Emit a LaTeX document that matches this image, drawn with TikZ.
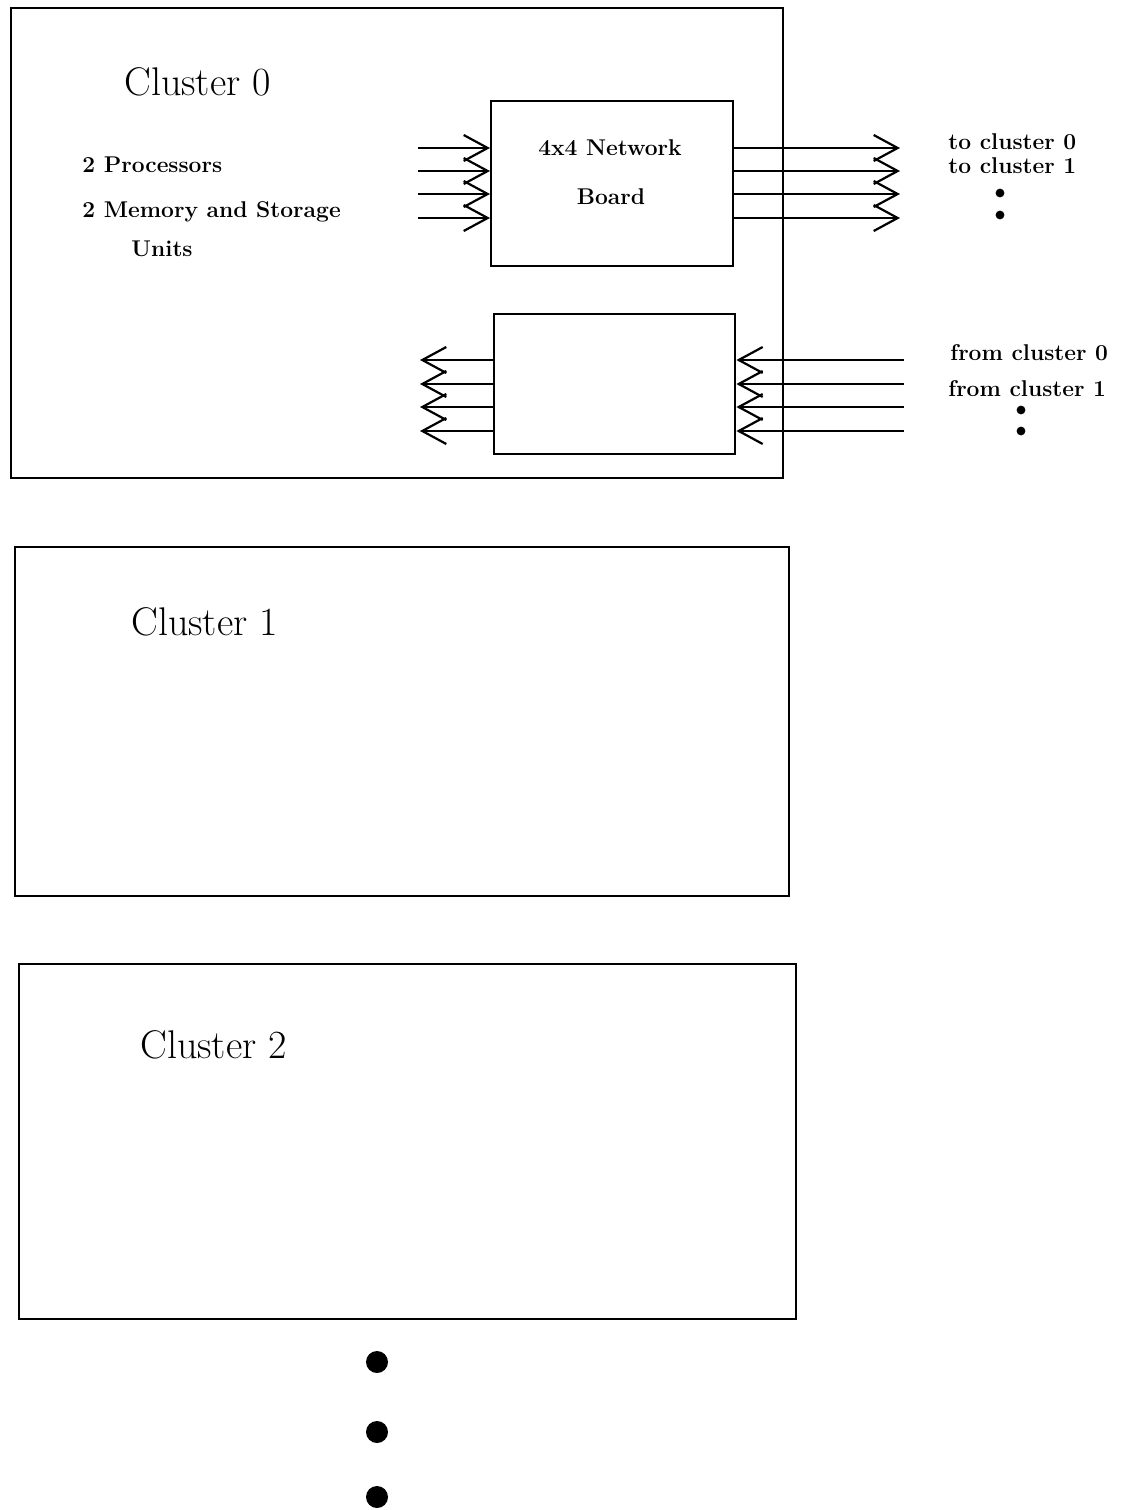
\documentclass[tikz,border=0pt]{standalone}
\usepackage{tikz}
\usetikzlibrary{positioning, calc, arrows.meta}

\tikzset{
    clusterbox/.style={draw, line width=1.2pt, anchor=north west, inner sep=0pt},
    boardbox/.style={draw, line width=1.2pt, anchor=north west, inner sep=0pt},
    bigarrow/.style={line width=1.1pt, -{Straight Barb[length=12pt, width=13pt, line width=1.1pt]}},
    boldlabel/.style={font=\fontsize{11.4}{13}\selectfont\bfseries, anchor=west, inner sep=0pt},
    clusterlabel/.style={font=\fontsize{20}{24}\selectfont, anchor=west, inner sep=0pt}
}

\begin{document}
\begin{tikzpicture}[x=0.5pt, y=-0.5pt]
        \useasboundingbox (0,0) rectangle (1126,1510);

        % ==========================================
        % CLUSTER 0: frame, labels and boards
        % ==========================================
        \node[clusterbox, minimum width=386pt, minimum height=235pt] (cluster0) at (10,7) {};
        \node[clusterlabel] (name0) at (124,82) {Cluster 0};
        \node[boldlabel] (procs) at (82,165) {2 Processors};
        \node[boldlabel] (mems) at (82,212) {2 Memory and Storage};
        \node[boldlabel] (units) at (131,249) {Units};

        % Network board (outgoing)
        \node[boardbox, minimum width=121pt, minimum height=82.5pt] (board) at (490,100) {};
        \node[boldlabel, anchor=center] (boardtop) at (610,148) {4x4 Network};
        \node[boldlabel, anchor=center] (boardbot) at (611,197) {Board};

        % Receiving board
        \node[boardbox, minimum width=120.5pt, minimum height=70pt] (board2) at (493,313) {};

        % Arrows into and out of the network board
        \foreach \i/\yy in {0/148,1/171,2/194,3/218} {
            \coordinate (ina\i) at (418,\yy);
            \coordinate (outa\i) at (900,\yy);
            \draw[bigarrow] (ina\i) -- (board.west |- ina\i);
            \draw[bigarrow] (board.east |- outa\i) -- (outa\i);
        }

        % Arrows into and out of the receiving board
        \foreach \i/\yy in {0/360,1/384,2/407,3/431} {
            \coordinate (inb\i) at (904,\yy);
            \coordinate (outb\i) at (420,\yy);
            \draw[bigarrow] (inb\i) -- (board2.east |- inb\i);
            \draw[bigarrow] (board2.west |- outb\i) -- (outb\i);
        }

        % Outgoing labels
        \node[boldlabel] (to0) at (948,142) {to cluster 0};
        \node[boldlabel] (to1) at (948,166) {to cluster 1};
        \fill (1000,193) circle (2.2pt) (1000,215) circle (2.2pt);

        % Incoming labels
        \node[boldlabel] (from0) at (950,353) {from cluster 0};
        \node[boldlabel] (from1) at (948,389) {from cluster 1};
        \fill (1021,410) circle (2.2pt) (1021,431) circle (2.2pt);

        % ==========================================
        % CLUSTER 1 and CLUSTER 2
        % ==========================================
        \node[clusterbox, minimum width=387pt, minimum height=174.5pt] (cluster1) at (14,546) {};
        \node[clusterlabel] (name1) at (131,622) {Cluster 1};

        \node[clusterbox, minimum width=388.5pt, minimum height=177.5pt] (cluster2) at (18,963) {};
        \node[clusterlabel] (name2) at (140,1045) {Cluster 2};

        % More clusters follow
        \foreach \yy in {1362,1432,1497}
            \fill (377,\yy) circle (5.5pt);

    \end{tikzpicture}
\end{document}
